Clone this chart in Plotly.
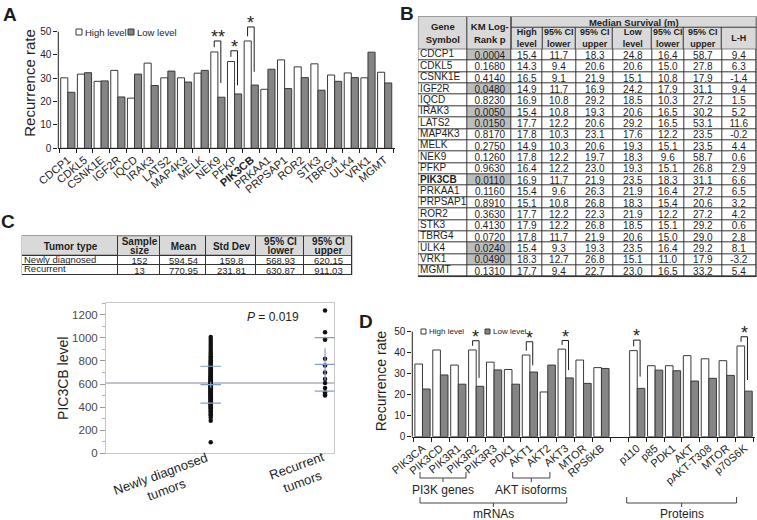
import plotly.graph_objects as go

FIG_W, FIG_H = 757, 520
FONT = "Arial, Liberation Sans, sans-serif"
INK = "#1e1e1e"
BAR_GRAY = "#858585"
BAR_EDGE = "#3a3a3a"

# ---------------- A: recurrence rate, high vs low expression ----------------
genes_a = ["CDCP1", "CDKL5", "CSNK1E", "IGF2R", "IQCD", "IRAK3", "LATS2", "MAP4K3", "MELK", "NEK9",
           "PFKP", "PIK3CB", "PRKAA1", "PRPSAP1", "ROR2", "STK3", "TBRG4", "ULK4", "VRK1", "MGMT"]
high_a = [30.2, 31.8, 28.7, 33.4, 21.5, 36.5, 30.2, 30.2, 32.2, 41.3,
          37.2, 46.0, 25.3, 37.9, 34.9, 36.2, 31.4, 32.3, 30.2, 32.6]
low_a = [24.0, 32.4, 28.9, 22.0, 31.8, 26.9, 33.1, 28.4, 33.4, 21.9,
         23.3, 27.1, 33.9, 25.6, 30.3, 24.9, 28.7, 30.3, 41.2, 28.0]
sig_genes_a = ["NEK9", "PFKP", "PIK3CB"]
sig_stars_a = ["**", "*", "*"]
sig_top_a = [46.0, 41.8, 52.0]
sig_right_a = [28.0, 27.0, 32.8]

# ---------------- B: KM survival table ----------------
km_p = ["0.0004", "0.1680", "0.4140", "0.0480", "0.8230", "0.0050", "0.0150", "0.8170", "0.2750", "0.1260",
        "0.9630", "0.0110", "0.1160", "0.8910", "0.3630", "0.4130", "0.0720", "0.0240", "0.0490", "0.1310"]
high_lvl = [15.4, 14.3, 16.5, 14.9, 16.9, 15.4, 17.7, 17.8, 14.9, 17.8, 16.4, 16.9, 15.4, 15.1, 17.7, 17.9, 17.8, 15.4, 18.3, 17.7]
high_lo = [11.7, 9.4, 9.1, 11.7, 10.8, 10.8, 12.2, 10.3, 10.3, 12.2, 12.2, 11.7, 9.6, 10.8, 12.2, 12.2, 11.7, 9.3, 12.7, 9.4]
high_up = [18.3, 20.6, 21.9, 16.9, 29.2, 19.3, 20.6, 23.1, 20.6, 19.7, 23.0, 21.9, 26.3, 26.8, 22.3, 26.8, 21.9, 19.3, 26.8, 22.7]
low_lvl = [24.8, 20.6, 15.1, 24.2, 18.5, 20.6, 29.2, 17.6, 19.3, 18.3, 19.3, 23.5, 21.9, 18.3, 21.9, 18.5, 20.6, 23.5, 15.1, 23.0]
low_lo = [16.4, 15.0, 10.8, 17.9, 10.3, 16.5, 16.5, 12.2, 15.1, 9.6, 15.1, 18.3, 16.4, 15.4, 12.2, 15.1, 15.0, 16.4, 11.0, 16.5]
low_up = [58.7, 27.8, 17.9, 31.1, 27.2, 30.2, 53.1, 23.5, 23.5, 58.7, 26.8, 31.1, 27.2, 20.6, 27.2, 29.2, 29.0, 29.2, 17.9, 33.2]
l_minus_h = [9.4, 6.3, -1.4, 9.4, 1.5, 5.2, 11.6, -0.2, 4.4, 0.6, 2.9, 6.6, 6.5, 3.2, 4.2, 0.6, 2.8, 8.1, -3.2, 5.4]
sub_hdr_b = ["High<br>level", "95% CI<br>lower", "95% CI<br>upper", "Low<br>level",
             "95% CI<br>lower", "95% CI<br>upper", "L-H"]
col_w_b = [49, 44.4, 30.8, 33.5, 37, 39, 32, 38, 34.3]

# ---------------- C: table + dot plot ----------------
tumor_types = ["Newly diagnosed", "Recurrent"]
sample_size = [152, 13]
mean_c = [594.54, 770.95]
sd_c = [159.8, 231.81]
ci_lo_c = [568.93, 630.87]
ci_hi_c = [620.15, 911.03]
hdr_c = ["Tumor type", "Sample<br>size", "Mean", "Std Dev", "95% CI<br>lower", "95% CI<br>upper"]
col_w_c = [96, 42, 46, 50, 48, 48]
groups_c = ["Newly diagnosed tumors", "Recurrent tumors"]
newly_vals = [95, 282, 308, 327, 338, 352, 361, 370, 384, 391, 399, 406, 413, 419, 424, 431, 437, 441,
              447, 452, 457, 463, 468, 471, 477, 483, 486, 492, 497, 503, 507, 511, 516, 519, 525, 529,
              533, 538, 541, 546, 549, 553, 558, 561, 566, 570, 573, 578, 582, 585, 590, 594, 597, 601,
              606, 609, 613, 618, 621, 626, 630, 634, 639, 643, 648, 652, 657, 662, 668, 673, 679, 684,
              690, 697, 702, 709, 715, 722, 728, 736, 743, 751, 758, 767, 776, 786, 794, 806, 817, 829,
              842, 856, 871, 887, 903, 921, 938, 956, 973, 990, 1008]
recur_vals = [1237, 1050, 990, 985, 820, 760, 700, 645, 610, 565, 530, 510, 500]
p_value = "0.019"

# ---------------- D: PI3K pathway genes / proteins ----------------
mrna_d = ["PIK3CA", "PIK3CD", "PIK3R1", "PIK3R2", "PIK3R3", "PDK1", "AKT1", "AKT2", "AKT3", "MTOR", "RPS6KB"]
mrna_high = [34.6, 41.3, 34.1, 41.3, 35.5, 32.0, 38.9, 21.3, 41.7, 36.5, 32.9]
mrna_low = [22.7, 29.4, 25.0, 24.0, 31.8, 25.0, 30.8, 34.1, 28.0, 25.4, 32.5]
prot_d = ["p110", "p85", "PDK1", "AKT", "pAKT-T308", "MTOR", "p70S6K"]
prot_high = [41.0, 33.8, 33.8, 38.6, 37.1, 36.2, 43.2]
prot_low = [23.0, 31.7, 31.4, 26.5, 27.8, 29.2, 21.7]
sig_keys_d = ["PIK3R2", "AKT1", "AKT3", "p:p110", "p:p70S6K"]
sig_top_d = [45.7, 45.2, 45.8, 46.0, 47.6]
sig_right_d = [28.0, 34.0, 31.7, 28.6, 27.0]
brace_labels = ["PI3K genes", "AKT isoforms", "mRNAs", "Proteins"]
brace_x0 = [-0.14, 5.04, -0.14, 11.41]
brace_x1 = [2.43, 7.12, 8.06, 17.55]
brace_row = [0, 0, 1, 1]


def fx(p):
    return p / FIG_W


def fy(p):
    return 1 - p / FIG_H


fig = go.Figure()
edge = dict(color=BAR_EDGE, width=1)

# A bars
fig.add_trace(go.Bar(x=genes_a, y=high_a, marker=dict(color="white", line=edge), hoverinfo="skip"))
fig.add_trace(go.Bar(x=genes_a, y=low_a, marker=dict(color=BAR_GRAY, line=edge), hoverinfo="skip"))

# D bars (one empty slot between mRNAs and proteins)
cats_d = mrna_d + ["gap"] + ["p:" + p for p in prot_d]
ticks_d = mrna_d + [""] + prot_d
fig.add_trace(go.Bar(x=cats_d, y=mrna_high + [None] + prot_high, marker=dict(color="white", line=edge),
                     xaxis="x5", yaxis="y5", hoverinfo="skip"))
fig.add_trace(go.Bar(x=cats_d, y=mrna_low + [None] + prot_low, marker=dict(color=BAR_GRAY, line=edge),
                     xaxis="x5", yaxis="y5", hoverinfo="skip"))

shapes = []
annos = []


def label(x, y, text, size, anchor="center", **kw):
    annos.append(dict(x=fx(x), y=fy(y), xref="paper", yref="paper", text=text, showarrow=False,
                      xanchor=anchor, yanchor="middle", font=dict(size=size, color=INK), **kw))


def add_bracket(xa, ya, i, left_bottom, top, right_bottom, stars, half):
    xl, xr = i - half, i + half * 0.8
    for x0, y0, x1, y1 in [(xl, left_bottom, xl, top), (xl, top, xr, top), (xr, top, xr, right_bottom)]:
        shapes.append(dict(type="line", xref=xa, yref=ya, x0=x0, y0=y0, x1=x1, y1=y1,
                           line=dict(color=INK, width=1)))
    annos.append(dict(x=(xl + xr) / 2, y=top, xref=xa, yref=ya, text=stars, showarrow=False,
                      xanchor="center", yanchor="bottom", yshift=-8, font=dict(size=18, color=INK)))


for g, s, top, rb in zip(sig_genes_a, sig_stars_a, sig_top_a, sig_right_a):
    i = genes_a.index(g)
    add_bracket("x", "y", i, high_a[i] + 2, top, rb, s, 0.22)

high_d = mrna_high + [None] + prot_high
for k, top, rb in zip(sig_keys_d, sig_top_d, sig_right_d):
    i = cats_d.index(k)
    add_bracket("x5", "y5", i, high_d[i] + 2, top, rb, "*", 0.2)

# y axis lines that stop at 50
for xa, ya in [("x", "y"), ("x5", "y5")]:
    shapes.append(dict(type="line", xref=xa + " domain", yref=ya, x0=0, x1=0, y0=0, y1=50,
                       line=dict(color=INK, width=1)))

# legends (A and D)
for size, fsz, y, items in [(6, 9.5, 32, [(76, "white", "High level"), (128, BAR_GRAY, "Low level")]),
                            (5, 8, 331.5, [(421, "white", "High level"), (485, BAR_GRAY, "Low level")])]:
    for bx, col, lab in items:
        shapes.append(dict(type="rect", xref="paper", yref="paper", x0=fx(bx), x1=fx(bx + size),
                           y0=fy(y - size / 2), y1=fy(y + size / 2), fillcolor=col,
                           line=dict(color=BAR_EDGE, width=1)))
        label(bx + size + 1, y, lab, fsz, anchor="left")

# D braces under tick labels
brace_y = [(472, 478, 482, 490), (497, 503, 507, 514)]
for lab, a, b, r in zip(brace_labels, brace_x0, brace_x1, brace_row):
    top, mid, tip, ty = brace_y[r]
    c = (a + b) / 2
    for x0, y0, x1, y1 in [(a, top, a, mid), (a, mid, b, mid), (b, mid, b, top), (c, mid, c, tip)]:
        shapes.append(dict(type="line", xref="x5", yref="paper", x0=x0, x1=x1, y0=fy(y0), y1=fy(y1),
                           line=dict(color="#444444", width=1)))
    annos.append(dict(x=c, y=fy(ty), xref="x5", yref="paper", text=lab, showarrow=False,
                      xanchor="center", yanchor="middle", font=dict(size=12, color=INK)))

# ---------------- tables drawn as heatmap bricks ----------------
CELL_SCALE = [[0, "#ffffff"], [0.5, "#d9d9d9"], [1, "#bdbdbd"]]


def brick(xa, ya, xe, ye, z, text, size, ygap=1):
    return go.Heatmap(x=xe, y=ye, z=z, text=text, texttemplate="%{text}", zmin=0, zmax=2,
                      colorscale=CELL_SCALE, showscale=False, xgap=1, ygap=ygap, hoverinfo="skip",
                      textfont=dict(size=size, color=INK, family=FONT), xaxis=xa, yaxis=ya)


def cumsum(ws):
    out = [0]
    for w in ws:
        out.append(out[-1] + w)
    return out


# B
xe_b = cumsum(col_w_b)
band_h, hdr_h_b, row_h_b = 11, 32.6, 11.37
body_b = [km_p, [f"{v:.1f}" for v in high_lvl], [f"{v:.1f}" for v in high_lo], [f"{v:.1f}" for v in high_up],
          [f"{v:.1f}" for v in low_lvl], [f"{v:.1f}" for v in low_lo], [f"{v:.1f}" for v in low_up],
          [f"{v:.1f}" for v in l_minus_h]]
nrow_b = len(genes_a)
ye_b = [hdr_h_b + r * row_h_b for r in range(nrow_b + 1)]
text_b = [[""] + [col[r] for col in body_b] for r in range(nrow_b)]
z_b = [[0, 2 if float(km_p[r]) < 0.05 else 0] + [0] * 7 for r in range(nrow_b)]
fig.add_trace(brick("x2", "y2", xe_b[:3], [0, hdr_h_b], [[1, 1]],
                    [["<b>Gene<br>Symbol</b>", "<b>KM Log-<br>Rank p</b>"]], 9.5))
fig.add_trace(brick("x2", "y2", [xe_b[2], xe_b[-1]], [0, band_h], [[1]], [["<b>Median Survival (m)</b>"]], 9.5))
fig.add_trace(brick("x2", "y2", xe_b[2:], [band_h, hdr_h_b], [[1] * 7],
                    [["<b>" + h + "</b>" for h in sub_hdr_b]], 9))
fig.add_trace(brick("x2", "y2", xe_b, ye_b, z_b, text_b, 10))
fig.add_trace(go.Scatter(x=[1.8] * nrow_b, y=[(ye_b[r] + ye_b[r + 1]) / 2 for r in range(nrow_b)],
                         mode="text", text=["<b>PIK3CB</b>" if g == "PIK3CB" else g for g in genes_a],
                         textposition="middle right", textfont=dict(size=10, color=INK),
                         xaxis="x2", yaxis="y2", hoverinfo="skip"))
W_B, H_B = xe_b[-1], ye_b[-1]
shapes.append(dict(type="rect", xref="x2", yref="y2", x0=-0.5, x1=W_B + 0.5, y0=-0.5, y1=H_B + 0.5,
                   fillcolor="#333333", line=dict(width=0), layer="below"))

# C table: two-line headers are split into two stacked bricks (no gap) for tight leading
xe_c = cumsum(col_w_c)
hdr_h_c, row_h_c = 20.3, 9.3
for j, h in enumerate(hdr_c):
    lines = h.split("<br>")
    if len(lines) == 2:
        fig.add_trace(brick("x3", "y3", xe_c[j:j + 2], [0.5, hdr_h_c / 2, hdr_h_c - 0.5], [[1], [1]],
                            [["<b>" + lines[0] + "</b>"], ["<b>" + lines[1] + "</b>"]], 10, ygap=0))
    else:
        fig.add_trace(brick("x3", "y3", xe_c[j:j + 2], [0, hdr_h_c], [[1]], [["<b>" + h + "</b>"]], 10))
ye_c = [hdr_h_c + r * row_h_c for r in range(3)]
body_c = [[str(v) for v in sample_size], [str(v) for v in mean_c], [str(v) for v in sd_c],
          [str(v) for v in ci_lo_c], [str(v) for v in ci_hi_c]]
text_c = [[""] + [col[r] for col in body_c] for r in range(2)]
fig.add_trace(brick("x3", "y3", xe_c, ye_c, [[0] * 6, [0] * 6], text_c, 9.5))
fig.add_trace(go.Scatter(x=[2] * 2, y=[(ye_c[r] + ye_c[r + 1]) / 2 for r in range(2)], mode="text",
                         text=tumor_types, textposition="middle right", textfont=dict(size=9.5, color=INK),
                         xaxis="x3", yaxis="y3", hoverinfo="skip"))
W_C, H_C = xe_c[-1], ye_c[-1]
shapes.append(dict(type="rect", xref="x3", yref="y3", x0=-0.5, x1=W_C + 0.5, y0=-0.5, y1=H_C + 0.5,
                   fillcolor="#333333", line=dict(width=0), layer="below"))

# C dot plot
n_all = sample_size[0] + sample_size[1]
grand_mean = (mean_c[0] * sample_size[0] + mean_c[1] * sample_size[1]) / n_all
shapes.append(dict(type="line", xref="x4 domain", yref="y4", x0=0, x1=1, y0=grand_mean, y1=grand_mean,
                   line=dict(color="#a9b0b8", width=1.5), layer="below"))
fig.add_trace(go.Scatter(x=[groups_c[0]] * len(newly_vals), y=newly_vals, mode="markers",
                         marker=dict(color="#111111", size=4.5), xaxis="x4", yaxis="y4", hoverinfo="skip"))
fig.add_trace(go.Scatter(x=[groups_c[1]] * len(recur_vals), y=recur_vals, mode="markers",
                         marker=dict(color="#111111", size=4.5), xaxis="x4", yaxis="y4", hoverinfo="skip"))
for i in range(2):
    for v in [mean_c[i] - sd_c[i], mean_c[i], mean_c[i] + sd_c[i]]:
        shapes.append(dict(type="line", xref="x4", yref="y4", x0=i - 0.09, x1=i + 0.09, y0=v, y1=v,
                           line=dict(color="#7f9fcf", width=1.2)))
    shapes.append(dict(type="line", xref="x4", yref="y4", x0=i, x1=i, y0=ci_lo_c[i], y1=ci_hi_c[i],
                       line=dict(color="#7f9fcf", width=1.2)))
label(273, 317, "<i>P</i> = " + p_value, 12)
label(163, 482, "Newly diagnosed<br>tumors", 13, textangle=-20)
label(299, 474, "Recurrent<br>tumors", 13, textangle=-20)

# panel letters
for lab, x, y in [("A", 10, 14), ("B", 407, 13), ("C", 8, 221), ("D", 366, 321)]:
    label(x, y, "<b>" + lab + "</b>", 19)

hidden = dict(visible=False, showgrid=False, zeroline=False, automargin=False)
bar_x = dict(type="category", showline=True, linecolor=INK, linewidth=1, ticks="outside", ticklen=4,
             tickcolor=INK, tickson="boundaries", tickangle=-40, tickfont=dict(size=11, color=INK),
             showgrid=False, zeroline=False, tickmode="array", automargin=False)
bar_y = dict(tickvals=[0, 10, 20, 30, 40, 50], ticks="outside", ticklen=4, tickcolor=INK, showline=False,
             showgrid=False, zeroline=False, tickfont=dict(size=10, color=INK), automargin=False)

fig.update_layout(
    template="none",
    width=FIG_W, height=FIG_H, margin=dict(l=0, r=0, t=0, b=0, autoexpand=False),
    paper_bgcolor="white", plot_bgcolor="white", font=dict(family=FONT, color=INK, size=10),
    barmode="group", bargap=0.15, bargroupgap=0, showlegend=False, hovermode=False,
    xaxis=dict(bar_x, domain=[fx(58.3), fx(395)], range=[-0.57, 19.62], anchor="y",
               tickvals=genes_a, ticktext=["<b>PIK3CB</b>" if g == "PIK3CB" else g for g in genes_a]),
    yaxis=dict(bar_y, domain=[fy(148.3), fy(17.65)], range=[0, 56], anchor="x",
               title=dict(text="Recurrence rate", font=dict(size=15, color=INK), standoff=0)),
    xaxis5=dict(bar_x, domain=[fx(412.3), fx(755)], range=[-0.57, 18.58], anchor="y5",
                tickvals=cats_d, ticktext=ticks_d),
    yaxis5=dict(bar_y, domain=[fy(436.7), fy(325.4)], range=[0, 53], anchor="x5",
                title=dict(text="Recurrence rate", font=dict(size=14, color=INK), standoff=4)),
    xaxis2=dict(hidden, domain=[fx(417.8), fx(756.8)], range=[-0.5, W_B + 0.5], anchor="y2"),
    yaxis2=dict(hidden, domain=[fy(16.7 + H_B + 0.5), fy(16.2)], range=[H_B + 0.5, -0.5], anchor="x2"),
    xaxis3=dict(hidden, domain=[fx(21.5), fx(21.5 + W_C + 1)], range=[-0.5, W_C + 0.5], anchor="y3"),
    yaxis3=dict(hidden, domain=[fy(235.7 + H_C + 0.5), fy(235.2)], range=[H_C + 0.5, -0.5], anchor="x3"),
    xaxis4=dict(type="category", categoryorder="array", categoryarray=groups_c, domain=[fx(106), fx(334.3)],
                range=[-0.916, 1.081], showticklabels=False, ticks="", showline=True, mirror=True,
                linecolor="#c8c8c8", showgrid=False, zeroline=False, anchor="y4", automargin=False),
    yaxis4=dict(domain=[fy(453.3), fy(303.3)], range=[0, 1300], tickvals=[0, 200, 400, 600, 800, 1000, 1200],
                ticks="outside", ticklen=5, tickcolor="#9a9a9a", showline=True, mirror=True, linecolor="#c8c8c8",
                minor=dict(ticks="outside", ticklen=3, dtick=100, tickcolor="#b0b0b0"),
                tickfont=dict(size=11.5, color="#4a4a4a"), showgrid=False, zeroline=False, anchor="x4",
                automargin=False,
                title=dict(text="PIC3CB level", font=dict(size=14, color=INK), standoff=0)),
    shapes=shapes, annotations=annos,
)

fig.write_html("out.html", config={"displayModeBar": False},
               post_script="document.body.style.margin = '0';")
